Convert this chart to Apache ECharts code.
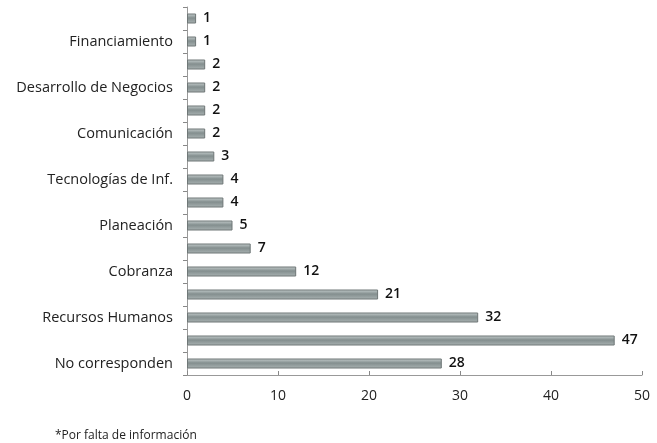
<!DOCTYPE html>
<html>
<head>
<meta charset="utf-8">
<script src="https://cdn.jsdelivr.net/npm/echarts@6/dist/echarts.min.js"></script>
<style>
  html, body { margin: 0; padding: 0; background: #fff; }
  #chart { width: 657px; height: 443px; }
</style>
</head>
<body>
<div id="chart"></div>
<script>
// bottom to top, only every other category is labelled in the source
const categories = [
  'No corresponden', '', 'Recursos Humanos', '', 'Cobranza', '',
  'Planeación', '', 'Tecnologías de Inf.', '', 'Comunicación', '',
  'Desarrollo de Negocios', '', 'Financiamiento', ''
]
const values = [28, 47, 32, 21, 12, 7, 5, 4, 4, 3, 2, 2, 2, 2, 1, 1]
const xTicks = [0, 10, 20, 30, 40, 50]
const footnote = '*Por falta de información'

const font = '"Open Sans", "Noto Sans", sans-serif'
const chart = echarts.init(document.getElementById('chart'))

chart.setOption({
  animation: false,
  grid: { left: 187, right: 15, top: 7, bottom: 68 },
  xAxis: {
    type: 'value',
    min: xTicks[0],
    max: xTicks[xTicks.length - 1],
    interval: 10,
    splitLine: { show: false },
    axisLine: { show: true, lineStyle: { color: '#999' } },
    axisTick: { show: true, inside: true, length: 4, lineStyle: { color: '#888' } },
    axisLabel: { color: '#222', fontSize: 14, fontFamily: font, margin: 14 }
  },
  yAxis: {
    type: 'category',
    data: categories,
    axisLine: { show: true, lineStyle: { color: '#999' } },
    axisTick: { show: true, length: 4, lineStyle: { color: '#888' } },
    axisLabel: { interval: 0, color: '#222', fontSize: 14.5, fontFamily: font, margin: 14 }
  },
  series: [{
    type: 'bar',
    data: values,
    barWidth: 10,
    itemStyle: {
      color: new echarts.graphic.LinearGradient(0, 0, 0, 1, [
        { offset: 0, color: '#c8d0d0' },
        { offset: 0.45, color: '#838e8e' },
        { offset: 1, color: '#aab3b3' }
      ]),
      borderColor: '#6f7777',
      borderWidth: 1
    },
    label: {
      show: true,
      position: 'right',
      distance: 7,
      color: '#111',
      fontSize: 14,
      fontWeight: 600,
      fontFamily: font
    }
  }],
  graphic: [{
    type: 'text',
    left: 55,
    top: 430,
    style: { text: footnote, fill: '#222', fontSize: 12, fontFamily: font }
  }]
})
</script>
</body>
</html>
